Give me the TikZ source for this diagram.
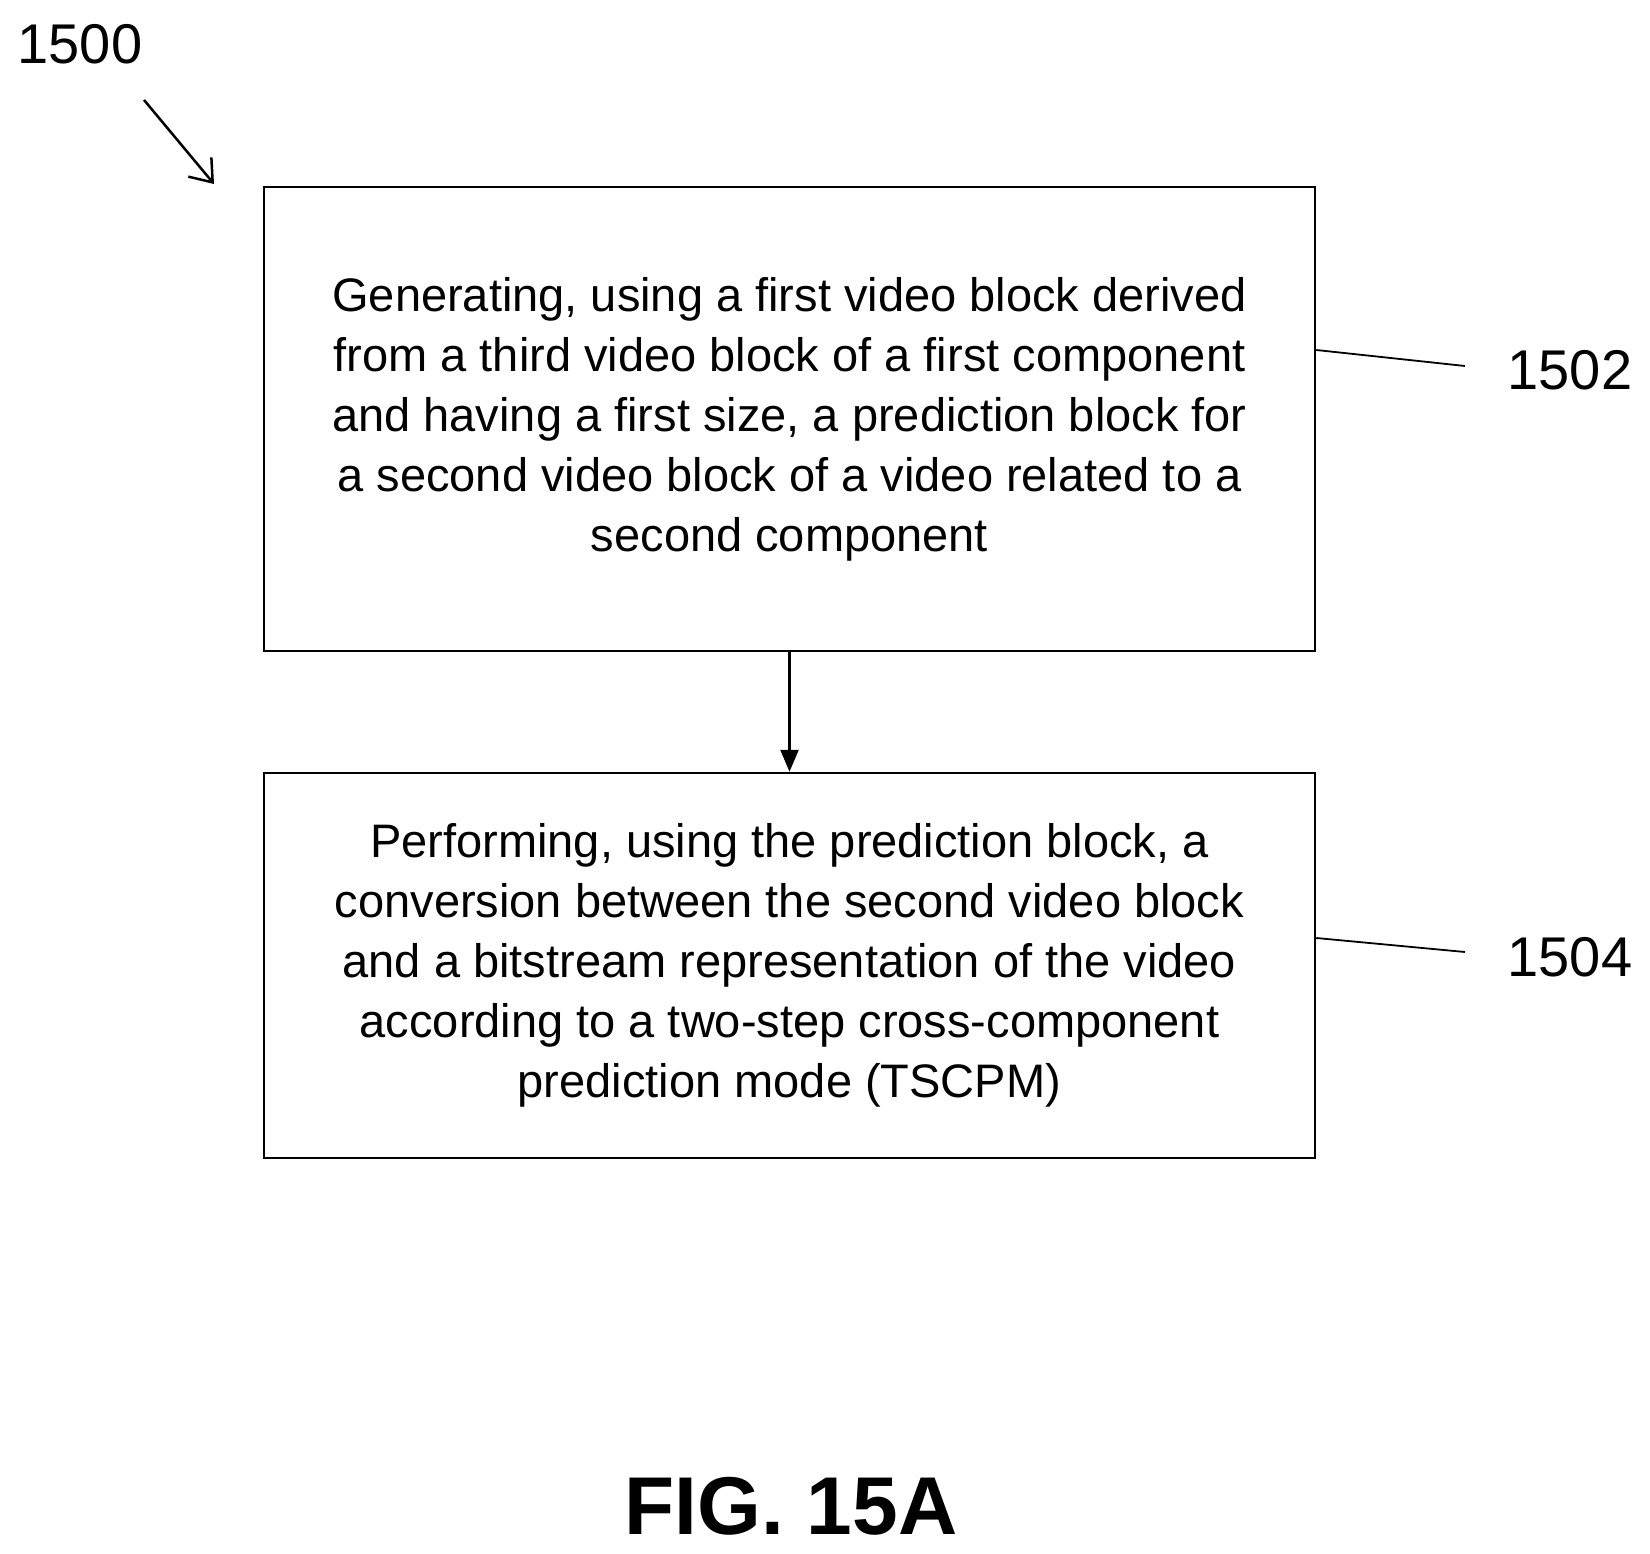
\documentclass[tikz,border=0pt]{standalone}
\usepackage{fontspec}
\setmainfont{Liberation Sans}
\usetikzlibrary{arrows.meta}
\begin{document}
\begin{tikzpicture}[x=1pt,y=-1pt,
  box/.style={draw,line width=2.5pt,minimum width=1051pt,minimum height=#1,align=center,
    font=\fontsize{47}{60}\selectfont,inner sep=0pt},
  lbl/.style={font=\fontsize{56}{60}\selectfont},
  lead/.style={line width=1.8pt}]
\useasboundingbox (0,0) rectangle (1650,1554);
\node[box=464pt] (b1) at (789.5,419) {Generating, using a first video block derived\\from a third video block of a first component\\and having a first size, a prediction block for\\a second video block of a video related to a\\second component};
\node[box=385pt] (b2) at (789.5,965.5) {Performing, using the prediction block, a\\conversion between the second video block\\and a bitstream representation of the video\\according to a two-step cross-component\\prediction mode (TSCPM)};
\draw[line width=2.5pt,-{Triangle[length=22pt,width=18pt]}] (b1) -- (b2);
\node[lbl] (l1) at (1570,370) {1502};
\node[lbl] (l2) at (1570,957) {1504};
\node[lbl] (l0) at (80,44) {1500};
\coordinate (c1) at (1465,366);
\coordinate (c2) at (1465,952);
\draw[lead] (b1.east |- 0,350) -- (c1);
\draw[lead] (b2.east |- 0,938) -- (c2);
\coordinate (a0) at (144,100);
\coordinate (a1) at (214,184);
\draw[line width=2.5pt,-{Straight Barb[length=20pt,width=30pt]}] (a0) -- (a1);
\node[font=\bfseries\fontsize{82}{90}\selectfont] (fig) at (791,1506) {FIG. 15A};
\end{tikzpicture}
\end{document}
